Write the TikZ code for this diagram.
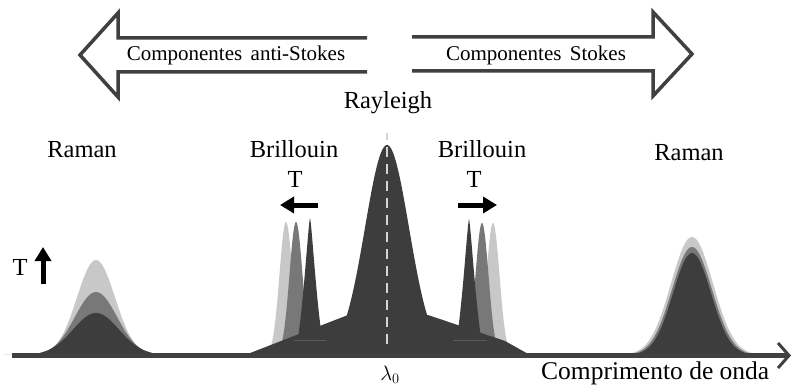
\documentclass[tikz,border=0pt]{standalone}
\usepackage{fontspec}
\setmainfont{Liberation Serif}
\usetikzlibrary{arrows.meta}
\definecolor{edgegray}{HTML}{404040}
\definecolor{peakdark}{HTML}{3D3D3D}
\definecolor{peakmid}{HTML}{787878}
\definecolor{peaklight}{HTML}{C8C8C8}
\definecolor{dashgray}{HTML}{D4D4D4}
\definecolor{seamgray}{HTML}{5A5A5A}
% Gaussian line: colour, centre, height, width (baseline at y = 355)
\newcommand{\gpeak}[4]{%
  \fill[#1] plot[domain={#2-4*#4}:{#2+4*#4}, samples=90, smooth]
    (\x,{355-#3*exp(-0.5*((\x-#2)/#4)*((\x-#2)/#4))}) -- cycle;}
\begin{document}
\begin{tikzpicture}[x=1pt,y=-1pt,
  outline/.style={draw=edgegray, line width=3.5pt, fill=white, line join=miter},
  lbl/.style={inner sep=0pt, anchor=base, font=\fontsize{24.5}{28}\selectfont},
  small/.style={inner sep=0pt, anchor=base, font=\fontsize{21}{24}\selectfont},
  fatarrow/.style={line width=5pt, -{Triangle[length=14pt,width=16pt]}},
  axisline/.style={draw=edgegray, line width=4.5pt},
  axishead/.style={draw=edgegray, line width=3pt, line join=miter},
  ]
\useasboundingbox (0,0) rectangle (791,385);

% direction arrows at the top
\draw[outline] (367,38) -- (118,38) -- (118,13) -- (80,55) -- (118,97) -- (118,72) -- (367,72);
\draw[outline] (412,37) -- (653,37) -- (653,12) -- (692,54) -- (653,96) -- (653,71) -- (412,71);
\node[small] (antistokes) at (236,61) {Componentes\hspace{0.4em}anti-Stokes};
\node[small] (stokes) at (536,61) {Componentes\hspace{0.4em}Stokes};

% labels
\node[lbl] (rayleigh) at (388,108) {Rayleigh};
\node[lbl] (ramanL) at (82,157) {Raman};
\node[lbl] (ramanR) at (689,160) {Raman};
\node[lbl] (brilL) at (294,157) {Brillouin};
\node[lbl] (brilR) at (482,157) {Brillouin};
\node[lbl] (tL) at (295,187) {T};
\node[lbl] (tR) at (474,187) {T};
\node[lbl] (tRaman) at (20,275) {T};

% temperature arrows
\coordinate (tupA) at (43,284);
\coordinate (tupB) at (43,247);
\draw[fatarrow] (tupA) -- (tupB);
\coordinate (blA) at (318,205);
\coordinate (blB) at (280,205);
\draw[fatarrow] (blA) -- (blB);
\coordinate (brA) at (458,205);
\coordinate (brB) at (497,205);
\draw[fatarrow] (brA) -- (brB);

% Raman anti-Stokes line at three temperatures
\gpeak{peaklight}{96}{95}{19}
\gpeak{peakmid}{96}{63}{21}
\gpeak{peakdark}{96}{42}{23}

% Raman Stokes line at three temperatures
\gpeak{peaklight}{692}{118}{21}
\gpeak{peakmid}{692}{108}{20}
\gpeak{peakdark}{692}{102}{19}

% shifted Brillouin lines
\gpeak{peaklight}{286}{133}{6.5}
\gpeak{peakmid}{296}{133}{6.5}
\gpeak{peaklight}{493}{132}{6.5}
\gpeak{peakmid}{482}{132}{6.5}

% Rayleigh pedestal and central line
\fill[peakdark] (245,355) -- (348,315) -- (428,315) -- (505,341) -- (530,355) -- cycle;
\gpeak{peakdark}{387}{210}{22}

% Brillouin lines at the reference temperature
\fill[peakdark] (297,345) .. controls (304,300) and (308,226) .. (310,218)
  .. controls (312,226) and (316,300) .. (323,345) -- cycle;
\fill[peakdark] (456,345) .. controls (463,300) and (467,227) .. (469,219)
  .. controls (471,227) and (475,300) .. (482,345) -- cycle;
\draw[seamgray, line width=0.8pt] (293,340) -- (326,340);
\draw[seamgray, line width=0.8pt] (453,340) -- (487,340);

% centre wavelength marker
\coordinate (lamTop) at (387,133);
\coordinate (lamBot) at (387,350);
\draw[dashgray, line width=2.5pt, dash pattern=on 10pt off 7pt, dash phase=3pt] (lamTop) -- (lamBot);

% wavelength axis
\coordinate (axL) at (12,355.5);
\coordinate (axR) at (789,355.5);
\draw[axisline] (axL) -- ([xshift=-1pt]axR);
\draw[axishead] ([shift={(-11,-12.5)}]axR) -- (axR) -- ([shift={(-11,12.5)}]axR);

\node[inner sep=0pt, anchor=base, font=\fontsize{22}{26}\selectfont] (lambda) at (390,380) {$\lambda_0$};
\node[inner sep=0pt, anchor=base west, font=\fontsize{25.5}{30}\selectfont] (xlabel) at (541,379) {Comprimento de onda};
\end{tikzpicture}
\end{document}
